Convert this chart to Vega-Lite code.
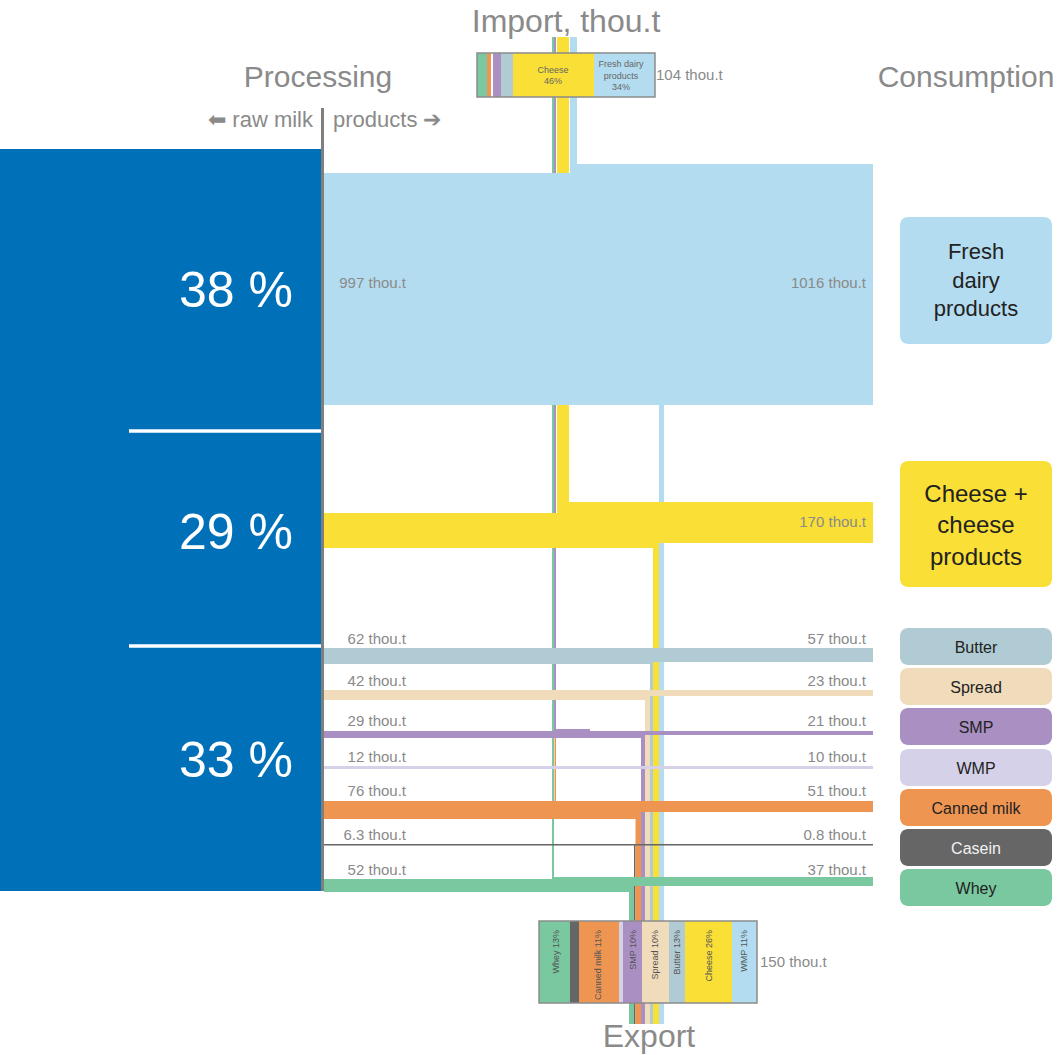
{
  "$schema": "https://vega.github.io/schema/vega-lite/v6.json",
  "width": 1057,
  "height": 1055,
  "autosize": {"type": "none"},
  "padding": 0,
  "background": "#ffffff",
  "config": {"view": {"stroke": null}, "font": "Liberation Sans"},
  "datasets": {
    "bands": [
      {"cat": "Whey", "x0": 552, "x1": 554, "y0": 37, "y1": 880},
      {"cat": "SMP", "x0": 554, "x1": 556, "y0": 37, "y1": 731},
      {"cat": "Canned milk", "x0": 554.5, "x1": 556, "y0": 738, "y1": 801},
      {"cat": "Cheese", "x0": 557, "x1": 569, "y0": 37, "y1": 510},
      {"cat": "Fresh dairy products", "x0": 570, "x1": 577, "y0": 37, "y1": 175},
      {"cat": "Whey", "x0": 629, "x1": 634, "y0": 886, "y1": 921},
      {"cat": "Casein", "x0": 634, "x1": 635.5, "y0": 844, "y1": 921},
      {"cat": "Canned milk", "x0": 635.5, "x1": 641, "y0": 812, "y1": 921},
      {"cat": "SMP", "x0": 641, "x1": 645, "y0": 735, "y1": 921},
      {"cat": "Spread", "x0": 645, "x1": 650, "y0": 696, "y1": 921},
      {"cat": "Butter", "x0": 650, "x1": 653, "y0": 662, "y1": 921},
      {"cat": "Cheese", "x0": 653, "x1": 659, "y0": 543, "y1": 921},
      {"cat": "Fresh dairy products", "x0": 659, "x1": 664, "y0": 403, "y1": 921},
      {"cat": "Whey", "x0": 629, "x1": 634, "y0": 1003, "y1": 1024},
      {"cat": "Casein", "x0": 634, "x1": 635.5, "y0": 1003, "y1": 1024},
      {"cat": "Canned milk", "x0": 635.5, "x1": 641, "y0": 1003, "y1": 1024},
      {"cat": "SMP", "x0": 641, "x1": 645, "y0": 1003, "y1": 1024},
      {"cat": "Spread", "x0": 645, "x1": 650, "y0": 1003, "y1": 1024},
      {"cat": "Butter", "x0": 650, "x1": 653, "y0": 1003, "y1": 1024},
      {"cat": "Cheese", "x0": 653, "x1": 659, "y0": 1003, "y1": 1024},
      {"cat": "Fresh dairy products", "x0": 659, "x1": 664, "y0": 1003, "y1": 1024},
      {"cat": "Fresh dairy products", "x0": 324, "x1": 873, "y0": 173, "y1": 405},
      {"cat": "Fresh dairy products", "x0": 577, "x1": 873, "y0": 164, "y1": 175},
      {"cat": "Cheese", "x0": 324, "x1": 659, "y0": 513, "y1": 548},
      {"cat": "Cheese", "x0": 557, "x1": 873, "y0": 502, "y1": 543},
      {"cat": "Butter", "x0": 324, "x1": 653, "y0": 649, "y1": 664},
      {"cat": "Butter", "x0": 324, "x1": 873, "y0": 648, "y1": 662},
      {"cat": "Spread", "x0": 324, "x1": 650, "y0": 690, "y1": 700},
      {"cat": "Spread", "x0": 324, "x1": 873, "y0": 690, "y1": 696},
      {"cat": "SMP", "x0": 324, "x1": 645, "y0": 731, "y1": 738},
      {"cat": "SMP", "x0": 324, "x1": 873, "y0": 731, "y1": 735},
      {"cat": "SMP", "x0": 555, "x1": 590, "y0": 729, "y1": 731},
      {"cat": "WMP", "x0": 324, "x1": 873, "y0": 766, "y1": 769},
      {"cat": "Canned milk", "x0": 324, "x1": 641, "y0": 801, "y1": 819},
      {"cat": "Canned milk", "x0": 324, "x1": 873, "y0": 801, "y1": 812},
      {"cat": "Casein", "x0": 324, "x1": 873, "y0": 844, "y1": 845.5},
      {"cat": "Whey", "x0": 324, "x1": 634, "y0": 879, "y1": 892},
      {"cat": "Whey", "x0": 553, "x1": 873, "y0": 877, "y1": 886},
      {"cat": "Milk", "x0": 0, "x1": 322, "y0": 149, "y1": 891}
    ],
    "boxsegs": [
      {"cat": "Whey", "x0": 477, "x1": 487, "y0": 53, "y1": 97},
      {"cat": "Canned milk", "x0": 487, "x1": 491, "y0": 53, "y1": 97},
      {"cat": "blank", "x0": 491, "x1": 493, "y0": 53, "y1": 97},
      {"cat": "SMP", "x0": 493, "x1": 501, "y0": 53, "y1": 97},
      {"cat": "Butter", "x0": 501, "x1": 513, "y0": 53, "y1": 97},
      {"cat": "Cheese", "x0": 513, "x1": 594, "y0": 53, "y1": 97},
      {"cat": "Fresh dairy products", "x0": 594, "x1": 655, "y0": 53, "y1": 97},
      {"cat": "Whey", "x0": 539, "x1": 570, "y0": 921, "y1": 1003},
      {"cat": "Casein", "x0": 570, "x1": 579, "y0": 921, "y1": 1003},
      {"cat": "Canned milk", "x0": 579, "x1": 619, "y0": 921, "y1": 1003},
      {"cat": "WMP", "x0": 619, "x1": 623, "y0": 921, "y1": 1003},
      {"cat": "SMP", "x0": 623, "x1": 642, "y0": 921, "y1": 1003},
      {"cat": "Spread", "x0": 642, "x1": 669, "y0": 921, "y1": 1003},
      {"cat": "Butter", "x0": 669, "x1": 685, "y0": 921, "y1": 1003},
      {"cat": "Cheese", "x0": 685, "x1": 732, "y0": 921, "y1": 1003},
      {"cat": "Fresh dairy products", "x0": 732, "x1": 757, "y0": 921, "y1": 1003}
    ],
    "outlines": [
      {"x0": 477, "x1": 655, "y0": 53, "y1": 97},
      {"x0": 539, "x1": 757, "y0": 921, "y1": 1003}
    ],
    "cboxes": [
      {"cat": "Fresh dairy products", "x0": 900, "x1": 1052, "y0": 217, "y1": 344},
      {"cat": "Cheese", "x0": 900, "x1": 1052, "y0": 461, "y1": 587},
      {"cat": "Butter", "x0": 900, "x1": 1052, "y0": 628, "y1": 665},
      {"cat": "Spread", "x0": 900, "x1": 1052, "y0": 668, "y1": 705},
      {"cat": "SMP", "x0": 900, "x1": 1052, "y0": 708, "y1": 745},
      {"cat": "WMP", "x0": 900, "x1": 1052, "y0": 749, "y1": 786},
      {"cat": "Canned milk", "x0": 900, "x1": 1052, "y0": 789, "y1": 826},
      {"cat": "Casein", "x0": 900, "x1": 1052, "y0": 829, "y1": 866},
      {"cat": "Whey", "x0": 900, "x1": 1052, "y0": 869, "y1": 906}
    ],
    "rules": [
      {"kind": "gray", "x0": 322.5, "x1": 322.5, "y0": 108, "y1": 891},
      {"kind": "white", "x0": 129, "x1": 321, "y0": 431, "y1": 431},
      {"kind": "white", "x0": 129, "x1": 321, "y0": 646, "y1": 646}
    ],
    "labels": [
      {"kind": "title32", "x": 566, "y": 32, "text": "Import, thou.t"},
      {"kind": "title32", "x": 649, "y": 1047, "text": "Export"},
      {"kind": "title30", "x": 318, "y": 87, "text": "Processing"},
      {"kind": "title30", "x": 966, "y": 87, "text": "Consumption"},
      {"kind": "subL", "x": 313, "y": 127, "text": "⬅ raw milk"},
      {"kind": "subR", "x": 333, "y": 127, "text": "products ➔"},
      {"kind": "pct", "x": 293, "y": 307, "text": "38 %"},
      {"kind": "pct", "x": 293, "y": 549, "text": "29 %"},
      {"kind": "pct", "x": 293, "y": 777, "text": "33 %"},
      {"kind": "flow", "x": 406, "y": 288, "text": "997 thou.t"},
      {"kind": "flow", "x": 866, "y": 288, "text": "1016 thou.t"},
      {"kind": "flow", "x": 866, "y": 527, "text": "170 thou.t"},
      {"kind": "flow", "x": 406, "y": 644, "text": "62 thou.t"},
      {"kind": "flow", "x": 866, "y": 644, "text": "57 thou.t"},
      {"kind": "flow", "x": 406, "y": 686, "text": "42 thou.t"},
      {"kind": "flow", "x": 866, "y": 686, "text": "23 thou.t"},
      {"kind": "flow", "x": 406, "y": 726, "text": "29 thou.t"},
      {"kind": "flow", "x": 866, "y": 726, "text": "21 thou.t"},
      {"kind": "flow", "x": 406, "y": 762, "text": "12 thou.t"},
      {"kind": "flow", "x": 866, "y": 762, "text": "10 thou.t"},
      {"kind": "flow", "x": 406, "y": 796, "text": "76 thou.t"},
      {"kind": "flow", "x": 866, "y": 796, "text": "51 thou.t"},
      {"kind": "flow", "x": 406, "y": 840, "text": "6.3 thou.t"},
      {"kind": "flow", "x": 866, "y": 840, "text": "0.8 thou.t"},
      {"kind": "flow", "x": 406, "y": 875, "text": "52 thou.t"},
      {"kind": "flow", "x": 866, "y": 875, "text": "37 thou.t"},
      {"kind": "total", "x": 656, "y": 80, "text": "104 thou.t"},
      {"kind": "total", "x": 760, "y": 967, "text": "150 thou.t"},
      {"kind": "big22", "x": 976, "y": 259, "text": "Fresh"},
      {"kind": "big22", "x": 976, "y": 288, "text": "dairy"},
      {"kind": "big22", "x": 976, "y": 316, "text": "products"},
      {"kind": "big24", "x": 976, "y": 502, "text": "Cheese +"},
      {"kind": "big24", "x": 976, "y": 533, "text": "cheese"},
      {"kind": "big24", "x": 976, "y": 565, "text": "products"},
      {"kind": "small16", "x": 976, "y": 652.5, "text": "Butter"},
      {"kind": "small16", "x": 976, "y": 692.5, "text": "Spread"},
      {"kind": "small16", "x": 976, "y": 732.5, "text": "SMP"},
      {"kind": "small16", "x": 976, "y": 773.5, "text": "WMP"},
      {"kind": "small16", "x": 976, "y": 813.5, "text": "Canned milk"},
      {"kind": "small16w", "x": 976, "y": 853.5, "text": "Casein"},
      {"kind": "small16", "x": 976, "y": 893.5, "text": "Whey"},
      {"kind": "imp9", "x": 553, "y": 73, "text": "Cheese"},
      {"kind": "imp9", "x": 553, "y": 84, "text": "46%"},
      {"kind": "imp9", "x": 621, "y": 67, "text": "Fresh dairy"},
      {"kind": "imp9", "x": 621, "y": 79, "text": "products"},
      {"kind": "imp9", "x": 621, "y": 90, "text": "34%"},
      {"kind": "exp9", "x": 556, "y": 930, "text": "Whey 13%"},
      {"kind": "exp9", "x": 598, "y": 930, "text": "Canned milk 11%"},
      {"kind": "exp9", "x": 632.5, "y": 930, "text": "SMP 10%"},
      {"kind": "exp9", "x": 655, "y": 930, "text": "Spread 10%"},
      {"kind": "exp9", "x": 677, "y": 930, "text": "Butter 13%"},
      {"kind": "exp9", "x": 709, "y": 930, "text": "Cheese 26%"},
      {"kind": "exp9", "x": 744, "y": 930, "text": "WMP 11%"}
    ]
  },
  "layer": [
    {
      "data": {"name": "bands"},
      "mark": {"type": "rect"},
      "encoding": {
        "x": {"field": "x0", "type": "quantitative", "scale": {"domain": [0, 1057], "nice": false, "zero": false}, "axis": null},
        "x2": {"field": "x1"},
        "y": {"field": "y0", "type": "quantitative", "scale": {"domain": [0, 1055], "nice": false, "zero": false, "reverse": true}, "axis": null},
        "y2": {"field": "y1"},
        "color": {"field": "cat", "type": "nominal", "legend": null,
          "scale": {"domain": ["Fresh dairy products", "Cheese", "Butter", "Spread", "SMP", "WMP", "Canned milk", "Casein", "Whey", "Milk", "blank"],
                    "range": ["#B3DCF0", "#F9DF36", "#B0CBD3", "#F0DBBB", "#AA8FC3", "#D4D1E9", "#EF9552", "#666666", "#79C8A0", "#0070B8", "#ffffff"]}}
      }
    },
    {
      "data": {"name": "boxsegs"},
      "mark": {"type": "rect"},
      "encoding": {
        "x": {"field": "x0", "type": "quantitative", "scale": {"domain": [0, 1057], "nice": false, "zero": false}, "axis": null},
        "x2": {"field": "x1"},
        "y": {"field": "y0", "type": "quantitative", "scale": {"domain": [0, 1055], "nice": false, "zero": false, "reverse": true}, "axis": null},
        "y2": {"field": "y1"},
        "color": {"field": "cat", "type": "nominal", "legend": null}
      }
    },
    {
      "data": {"name": "outlines"},
      "mark": {"type": "rect", "fill": null, "fillOpacity": 0, "stroke": "#8c8c8c", "strokeWidth": 1.5},
      "encoding": {
        "x": {"field": "x0", "type": "quantitative", "axis": null},
        "x2": {"field": "x1"},
        "y": {"field": "y0", "type": "quantitative", "axis": null},
        "y2": {"field": "y1"}
      }
    },
    {
      "data": {"name": "cboxes"},
      "mark": {"type": "rect", "cornerRadius": 8},
      "encoding": {
        "x": {"field": "x0", "type": "quantitative", "axis": null},
        "x2": {"field": "x1"},
        "y": {"field": "y0", "type": "quantitative", "axis": null},
        "y2": {"field": "y1"},
        "color": {"field": "cat", "type": "nominal", "legend": null}
      }
    },
    {
      "data": {"name": "rules"},
      "transform": [{"filter": "datum.kind === 'gray'"}],
      "mark": {"type": "rule", "color": "#7f7f7f", "strokeWidth": 3},
      "encoding": {
        "x": {"field": "x0", "type": "quantitative", "axis": null},
        "x2": {"field": "x1"},
        "y": {"field": "y0", "type": "quantitative", "axis": null},
        "y2": {"field": "y1"}
      }
    },
    {
      "data": {"name": "rules"},
      "transform": [{"filter": "datum.kind === 'white'"}],
      "mark": {"type": "rule", "color": "#ffffff", "strokeWidth": 3.5},
      "encoding": {
        "x": {"field": "x0", "type": "quantitative", "axis": null},
        "x2": {"field": "x1"},
        "y": {"field": "y0", "type": "quantitative", "axis": null},
        "y2": {"field": "y1"}
      }
    },
    {
      "data": {"name": "labels"},
      "transform": [{"filter": "datum.kind === 'title32'"}],
      "mark": {"type": "text", "fontSize": 32, "color": "#8a8a8a", "align": "center", "baseline": "alphabetic"},
      "encoding": {"x": {"field": "x", "type": "quantitative", "axis": null}, "y": {"field": "y", "type": "quantitative", "axis": null}, "text": {"field": "text"}}
    },
    {
      "data": {"name": "labels"},
      "transform": [{"filter": "datum.kind === 'title30'"}],
      "mark": {"type": "text", "fontSize": 30, "color": "#8a8a8a", "align": "center", "baseline": "alphabetic"},
      "encoding": {"x": {"field": "x", "type": "quantitative", "axis": null}, "y": {"field": "y", "type": "quantitative", "axis": null}, "text": {"field": "text"}}
    },
    {
      "data": {"name": "labels"},
      "transform": [{"filter": "datum.kind === 'subL'"}],
      "mark": {"type": "text", "fontSize": 22, "color": "#8a8a8a", "align": "right", "baseline": "alphabetic"},
      "encoding": {"x": {"field": "x", "type": "quantitative", "axis": null}, "y": {"field": "y", "type": "quantitative", "axis": null}, "text": {"field": "text"}}
    },
    {
      "data": {"name": "labels"},
      "transform": [{"filter": "datum.kind === 'subR'"}],
      "mark": {"type": "text", "fontSize": 22, "color": "#8a8a8a", "align": "left", "baseline": "alphabetic"},
      "encoding": {"x": {"field": "x", "type": "quantitative", "axis": null}, "y": {"field": "y", "type": "quantitative", "axis": null}, "text": {"field": "text"}}
    },
    {
      "data": {"name": "labels"},
      "transform": [{"filter": "datum.kind === 'pct'"}],
      "mark": {"type": "text", "fontSize": 50, "color": "#ffffff", "align": "right", "baseline": "alphabetic"},
      "encoding": {"x": {"field": "x", "type": "quantitative", "axis": null}, "y": {"field": "y", "type": "quantitative", "axis": null}, "text": {"field": "text"}}
    },
    {
      "data": {"name": "labels"},
      "transform": [{"filter": "datum.kind === 'flow'"}],
      "mark": {"type": "text", "fontSize": 15, "color": "#8a8a8a", "align": "right", "baseline": "alphabetic"},
      "encoding": {"x": {"field": "x", "type": "quantitative", "axis": null}, "y": {"field": "y", "type": "quantitative", "axis": null}, "text": {"field": "text"}}
    },
    {
      "data": {"name": "labels"},
      "transform": [{"filter": "datum.kind === 'total'"}],
      "mark": {"type": "text", "fontSize": 15, "color": "#8a8a8a", "align": "left", "baseline": "alphabetic"},
      "encoding": {"x": {"field": "x", "type": "quantitative", "axis": null}, "y": {"field": "y", "type": "quantitative", "axis": null}, "text": {"field": "text"}}
    },
    {
      "data": {"name": "labels"},
      "transform": [{"filter": "datum.kind === 'big22'"}],
      "mark": {"type": "text", "fontSize": 22, "color": "#222222", "align": "center", "baseline": "alphabetic"},
      "encoding": {"x": {"field": "x", "type": "quantitative", "axis": null}, "y": {"field": "y", "type": "quantitative", "axis": null}, "text": {"field": "text"}}
    },
    {
      "data": {"name": "labels"},
      "transform": [{"filter": "datum.kind === 'big24'"}],
      "mark": {"type": "text", "fontSize": 24, "color": "#222222", "align": "center", "baseline": "alphabetic"},
      "encoding": {"x": {"field": "x", "type": "quantitative", "axis": null}, "y": {"field": "y", "type": "quantitative", "axis": null}, "text": {"field": "text"}}
    },
    {
      "data": {"name": "labels"},
      "transform": [{"filter": "datum.kind === 'small16'"}],
      "mark": {"type": "text", "fontSize": 16, "color": "#222222", "align": "center", "baseline": "alphabetic"},
      "encoding": {"x": {"field": "x", "type": "quantitative", "axis": null}, "y": {"field": "y", "type": "quantitative", "axis": null}, "text": {"field": "text"}}
    },
    {
      "data": {"name": "labels"},
      "transform": [{"filter": "datum.kind === 'small16w'"}],
      "mark": {"type": "text", "fontSize": 16, "color": "#f2f2f2", "align": "center", "baseline": "alphabetic"},
      "encoding": {"x": {"field": "x", "type": "quantitative", "axis": null}, "y": {"field": "y", "type": "quantitative", "axis": null}, "text": {"field": "text"}}
    },
    {
      "data": {"name": "labels"},
      "transform": [{"filter": "datum.kind === 'imp9'"}],
      "mark": {"type": "text", "fontSize": 9, "color": "#666666", "align": "center", "baseline": "alphabetic"},
      "encoding": {"x": {"field": "x", "type": "quantitative", "axis": null}, "y": {"field": "y", "type": "quantitative", "axis": null}, "text": {"field": "text"}}
    },
    {
      "data": {"name": "labels"},
      "transform": [{"filter": "datum.kind === 'exp9'"}],
      "mark": {"type": "text", "fontSize": 9, "color": "#555555", "align": "right", "baseline": "middle", "angle": 270},
      "encoding": {"x": {"field": "x", "type": "quantitative", "axis": null}, "y": {"field": "y", "type": "quantitative", "axis": null}, "text": {"field": "text"}}
    }
  ]
}
